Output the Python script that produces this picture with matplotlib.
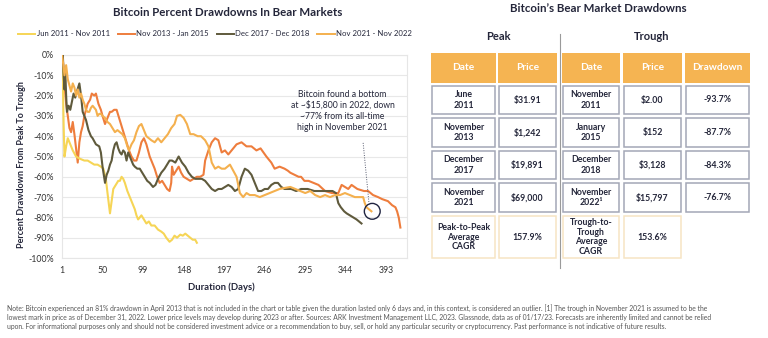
import matplotlib
matplotlib.use("Agg")
import matplotlib.pyplot as plt
from matplotlib.lines import Line2D
from matplotlib.patches import Rectangle

plt.rcParams['font.family'] = ['Lato', 'DejaVu Sans']

# ---------------- chart data: (day, % drawdown from peak) ----------------
days_2011 = [1, 2, 3, 4, 6, 8, 11, 14, 18, 22, 28, 32, 36, 40, 44, 48, 51, 54, 56, 59, 61, 63, 66, 69, 71,
             73, 75, 77, 80, 83, 86, 89, 91, 93, 95, 97, 100, 103, 106, 109, 113, 117, 121, 124, 127, 131,
             134, 137, 140, 144, 147, 150, 153, 156, 159, 162, 164]
dd_2011 = [0, -12, -35, -50, -45, -41, -44, -47, -50, -51, -52, -52, -53, -54, -54, -55, -56, -61, -68, -78,
           -72, -66, -64, -62, -62, -60, -61, -63, -67, -70, -73, -76, -79, -81, -80, -79, -81, -83, -82, -84,
           -84, -86, -87, -88, -90, -92, -91, -89, -90, -88.5, -89, -88, -89, -90, -91, -91, -92.5]

days_2013 = [1, 2, 3, 4, 6, 8, 10, 12, 14, 16, 18, 20, 22, 24, 26, 28, 30, 32, 35, 37, 40, 42, 45, 48, 50,
             53, 56, 59, 61, 64, 67, 70, 73, 76, 79, 82, 85, 88, 91, 94, 97, 100, 103, 107, 110, 113, 116,
             119, 122, 125, 128, 131, 133, 134, 136, 139, 142, 145, 148, 152, 156, 160, 164, 168, 172, 174,
             178, 182, 186, 190, 194, 198, 202, 206, 212, 218, 224, 230, 236, 241, 248, 254, 258, 264, 270,
             274, 277, 282, 287, 290, 294, 299, 305, 311, 319, 327, 335, 339, 343, 347, 351, 358, 366, 371,
             377, 383, 388, 395, 400, 404, 406, 408, 410]
dd_2013 = [0, -2, -8, -15, -24, -30, -36, -38, -33, -39, -46, -53, -43, -38, -35, -30, -27, -24, -22, -19,
           -20, -19, -24, -27, -30, -34, -31, -28, -28, -27, -27, -31, -35, -39, -43, -47, -50, -52, -52, -48,
           -43, -41, -44, -50, -53, -56, -60, -63, -62, -64, -66, -67, -63, -55, -59, -57, -55, -58, -60, -61,
           -62, -61, -60, -60, -59, -52, -47, -43, -41, -42, -48, -47, -49, -47, -44, -43, -45, -45, -47, -46,
           -50, -53, -56, -55, -56, -57, -58, -59, -60, -60, -62, -62, -63, -64, -67, -68, -68, -64, -65, -66,
           -64, -66, -67, -67, -69, -70, -71, -72, -74, -75, -77, -80, -85]

days_2017 = [1, 2, 3, 4, 5, 6, 7, 9, 11, 13, 15, 17, 19, 22, 24, 26, 28, 30, 33, 36, 38, 42, 46, 48, 50, 53,
             55, 57, 59, 61, 63, 65, 67, 69, 71, 73, 75, 77, 79, 81, 84, 87, 89, 92, 95, 98, 101, 104, 107,
             111, 114, 117, 121, 125, 128, 131, 134, 138, 142, 146, 150, 154, 158, 162, 166, 170, 174, 178,
             182, 186, 190, 194, 198, 202, 206, 210, 214, 218, 222, 226, 230, 234, 238, 242, 246, 250, 254,
             258, 262, 266, 270, 274, 278, 284, 290, 298, 306, 314, 322, 328, 332, 335, 338, 342, 345, 349,
             353, 357, 360, 363]
dd_2017 = [-4, 0, -10, -17, -8, -20, -28, -25, -27, -23, -19, -21, -18, -14, -20, -28, -30, -32, -37, -40,
           -41, -44, -45, -48, -55, -63, -59, -57, -54, -52, -47, -44, -43, -46, -48, -49, -47, -48, -52, -48,
           -51, -54, -55, -56, -56, -58, -60, -62, -63, -65, -64, -61, -58, -56, -54, -52, -52, -53, -50, -53,
           -55, -58, -60, -61, -61, -61, -62, -64, -66, -67, -66, -66, -65, -64, -65, -67, -66, -60, -56, -57,
           -59, -63, -67, -67, -66, -66, -64, -63, -63, -65, -66, -66, -66, -67, -66, -66, -67, -67, -67, -67,
           -68, -73, -75, -77, -78, -79, -80, -81, -82, -83]

days_2021 = [1, 2, 4, 6, 8, 10, 12, 14, 16, 18, 20, 22, 24, 26, 28, 30, 32, 34, 36, 38, 40, 42, 44, 46, 48,
             50, 53, 56, 59, 62, 65, 68, 71, 74, 77, 80, 82, 85, 88, 91, 94, 97, 100, 103, 106, 109, 113, 117,
             121, 125, 129, 133, 137, 140, 144, 148, 152, 156, 160, 165, 169, 174, 178, 182, 186, 190, 194,
             198, 204, 208, 212, 216, 220, 224, 228, 234, 240, 246, 252, 258, 264, 270, 277, 283, 289, 295,
             301, 307, 313, 319, 325, 331, 337, 343, 349, 355, 365, 367, 369, 372, 375]
dd_2021 = [0, -3, -10, -5, -12, -15, -18, -14, -16, -20, -17, -21, -19, -22, -24, -27, -28, -28, -26, -25,
           -26, -27, -30, -29, -29, -30, -31, -33, -34, -36, -38, -37, -38, -39, -41, -45, -47, -44, -42, -38,
           -35, -34, -37, -40, -41, -42, -43, -41, -43, -41, -39, -36, -34, -30, -29.5, -31, -34, -39, -39,
           -40, -40, -42, -45, -53, -56, -55, -56, -56, -54, -57, -60, -68, -70, -68, -69, -69, -70, -69, -68,
           -67, -66, -65.5, -65, -66, -67, -68, -67, -69, -70, -69, -70, -69, -69, -68, -69, -70, -70, -73,
           -75, -76, -77]

series_labels = ["Jun 2011 - Nov 2011", "Nov 2013 - Jan 2015", "Dec 2017 - Dec 2018", "Nov 2021 - Nov 2022"]
series_colors = ["#F6D556", "#EE7D3D", "#5F5A3C", "#F4B04E"]
x_ticks = [1, 50, 99, 148, 197, 246, 295, 344, 393]
y_ticks = [0, -10, -20, -30, -40, -50, -60, -70, -80, -90, -100]

# ---------------- table data ----------------
peak_dates = ["June\n2011", "November\n2013", "December\n2017", "November\n2021"]
peak_prices = ["$31.91", "$1,242", "$19,891", "$69,000"]
trough_dates = ["November\n2011", "January\n2015", "December\n2018", "November\n2022¹"]
trough_prices = ["$2.00", "$152", "$3,128", "$15,797"]
drawdowns = ["-93.7%", "-87.7%", "-84.3%", "-76.7%"]
peak_cagr = "157.9%"
trough_cagr = "153.6%"

W, H = 768, 338
fig = plt.figure(figsize=(W / 100, H / 100), dpi=100)
fig.patch.set_facecolor("white")

TXT = "#24263a"

# ---------------- line chart ----------------
ax = fig.add_axes([62 / W, 1 - 258 / H, 345 / W, 203 / H])
series = [(days_2011, dd_2011), (days_2013, dd_2013), (days_2017, dd_2017), (days_2021, dd_2021)]
order = [0, 2, 1, 3]
for i in order:
    d, v = series[i]
    ax.plot(d, v, color=series_colors[i], lw=1.5, solid_joinstyle="round", zorder=3 if i != 1 else 2)

ax.set_xlim(1, 418)
ax.set_ylim(-100, 0)
ax.set_xticks(x_ticks)
ax.set_xticklabels([str(t) for t in x_ticks])
ax.set_yticks(y_ticks)
ax.set_yticklabels([f"{t}%" for t in y_ticks])
ax.tick_params(length=0, labelsize=6.3, colors="#333333", pad=6)
ax.grid(axis="y", color="#e8e8e8", lw=0.8)
ax.set_axisbelow(True)
for s in ax.spines.values():
    s.set_color("#e6e6e6")
    s.set_linewidth(0.8)

ax.text(340, -27.5, "Bitcoin found a bottom\nat ~$15,800 in 2022, down\n~77% from its all-time\nhigh in November 2021",
        ha="center", va="center", fontsize=6.2, color=TXT, linespacing=1.25)
ax.plot([365, 372], [-43.3, -72.8], ls=(0, (1, 1.5)), color="#555a6e", lw=0.7)
ax.scatter([376], [-77], s=130, facecolors="none", edgecolors="#1f2440", linewidths=1.0, zorder=5)

fig.text(22 / W, 1 - 165 / H, "Percent Drawdown From Peak To Trough", rotation=90, ha="center", va="center",
         fontsize=6.5, fontweight="bold", color=TXT)
fig.text(221 / W, 1 - 287 / H, "Duration (Days)", ha="center", va="center", fontsize=6.8,
         fontweight="bold", color=TXT)
fig.text(228 / W, 1 - 12 / H, "Bitcoin Percent Drawdowns In Bear Markets", ha="center", va="center",
         fontsize=8.3, fontweight="bold", color=TXT)

handles = [Line2D([], [], color=c, lw=1.4) for c in series_colors]
fig.legend(handles, series_labels, loc="center", bbox_to_anchor=(215 / W, 1 - 34 / H), ncol=4,
           frameon=False, fontsize=5.6, handlelength=2.2, handletextpad=0.2, columnspacing=1.0,
           labelcolor=TXT)

# ---------------- table ----------------
tab = fig.add_axes([0, 0, 1, 1], zorder=-1)
tab.set_xlim(0, W)
tab.set_ylim(H, 0)
tab.axis("off")

fig.text(598 / W, 1 - 8 / H, "Bitcoin’s Bear Market Drawdowns", ha="center", va="center",
         fontsize=8.3, fontweight="bold", color=TXT)
tab.text(498, 36, "Peak", ha="center", va="center", fontsize=8, fontweight="bold", color=TXT)
tab.text(652, 36, "Trough", ha="center", va="center", fontsize=8, fontweight="bold", color=TXT)
tab.plot([559.5, 559.5], [34, 268], color="#9a9a9a", lw=0.8)

cols = [(431, 496), (498, 557), (562, 620), (623, 682), (685, 750)]
headers = ["Date", "Price", "Date", "Price", "Drawdown"]
HDR = "#F5B452"
for (x0, x1), h in zip(cols, headers):
    tab.add_patch(Rectangle((x0, 53), x1 - x0, 30, facecolor=HDR, edgecolor="none"))
    tab.text((x0 + x1) / 2, 68, h, ha="center", va="center", fontsize=7.3, fontweight="bold", color="white")

row_tops = [85, 117.5, 150, 182.5]
for r, top in enumerate(row_tops):
    vals = [peak_dates[r], peak_prices[r], trough_dates[r], trough_prices[r], drawdowns[r]]
    for (x0, x1), v in zip(cols, vals):
        tab.add_patch(Rectangle((x0 + 0.6, top + 0.6), x1 - x0 - 1.2, 28.8, facecolor="white",
                                edgecolor="#a3a7b6", lw=1.1))
        tab.text((x0 + x1) / 2, top + 15, v, ha="center", va="center", fontsize=6.3,
                 fontweight="bold", color=TXT, linespacing=1.15)

cagr_vals = ["Peak-to-Peak\nAverage\nCAGR", peak_cagr, "Trough-to-\nTrough\nAverage\nCAGR", trough_cagr]
for (x0, x1), v in zip(cols[:4], cagr_vals):
    tab.add_patch(Rectangle((x0 + 0.6, 215.6), x1 - x0 - 1.2, 42, facecolor="white",
                            edgecolor="#f6e4c4", lw=1.1))
    tab.text((x0 + x1) / 2, 237, v, ha="center", va="center", fontsize=6.3,
             fontweight="bold", color=TXT, linespacing=1.1)

# ---------------- footnote ----------------
note = ("Note: Bitcoin experienced an 81% drawdown in April 2013 that is not included in the chart or table given "
        "the duration lasted only 6 days and, in this context, is considered an outlier. [1] The trough in November "
        "2021 is assumed to be the\n"
        "lowest mark in price as of December 31, 2022. Lower price levels may develop during 2023 or after. Sources: "
        "ARK Investment Management LLC, 2023. Glassnode, data as of 01/17/23. Forecasts are inherently limited and "
        "cannot be relied\n"
        "upon. For informational purposes only and should not be considered investment advice or a recommendation "
        "to buy, sell, or hold any particular security or cryptocurrency. Past performance is not indicative of "
        "future results.")
fig.text(7 / W, 1 - 304 / H, note, ha="left", va="top", fontsize=4.9, color="#555555", linespacing=1.35)

fig.savefig("out.png", dpi=100)
